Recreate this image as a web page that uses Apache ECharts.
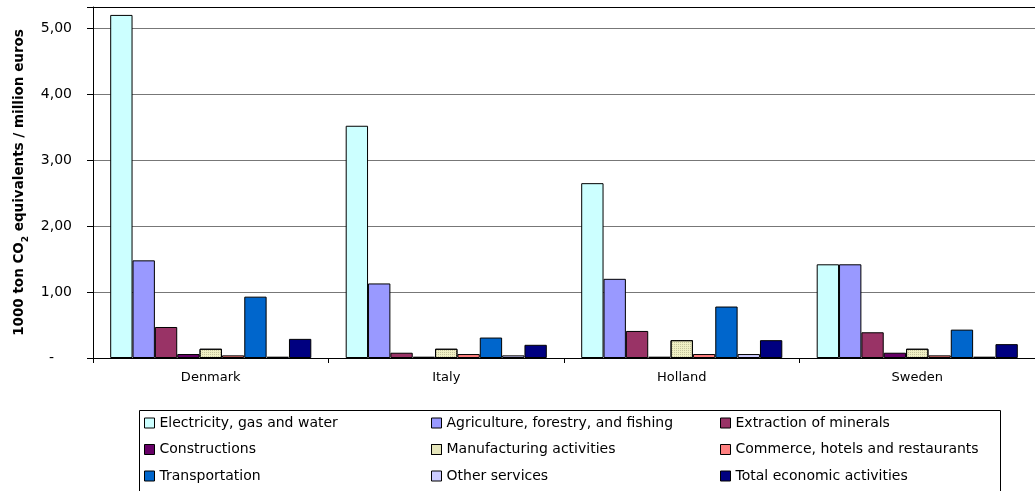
<!DOCTYPE html>
<html>
<head>
<meta charset="utf-8">
<script src="https://cdn.jsdelivr.net/npm/echarts@6/dist/echarts.min.js"></script>
<style>
html,body{margin:0;padding:0;background:#fff;}
#chart{width:1035px;height:491px;}
</style>
</head>
<body>
<div id="chart"></div>
<script>
const categories = ['Denmark', 'Italy', 'Holland', 'Sweden'];
const seriesNames = [
  'Electricity, gas and water',
  'Agriculture, forestry, and fishing',
  'Extraction of minerals',
  'Constructions',
  'Manufacturing activities',
  'Commerce, hotels and restaurants',
  'Transportation',
  'Other services',
  'Total economic activities'
];
const electricity   = [5.20, 3.52, 2.65, 1.42];
const agriculture   = [1.48, 1.13, 1.20, 1.42];
const extraction    = [0.47, 0.08, 0.41, 0.39];
const constructions = [0.06, 0.02, 0.02, 0.08];
const manufacturing = [0.14, 0.14, 0.27, 0.14];
const commerce      = [0.04, 0.06, 0.06, 0.04];
const transport     = [0.93, 0.31, 0.78, 0.43];
const otherServices = [0.02, 0.04, 0.06, 0.02];
const totalEcon     = [0.29, 0.20, 0.27, 0.21];
const yTicks = [0, 1, 2, 3, 4, 5];

const values = [electricity, agriculture, extraction, constructions, manufacturing, commerce, transport, otherServices, totalEcon];
const colors = ['#CCFFFF', '#9999FF', '#993366', '#660066', '#F0F0C4', '#FF8080', '#0066CC', '#CCCCFF', '#000080'];

const FONT = 'DejaVu Sans';

const series = seriesNames.map((name, i) => {
  const s = {
    name: name,
    type: 'bar',
    data: values[i],
    barGap: '0%',
    barCategoryGap: '14.6%',
    itemStyle: { color: colors[i], borderColor: '#000', borderWidth: 1 },
    emphasis: { disabled: true },
    animation: false
  };
  if (i === 4) {
    s.itemStyle.decal = { symbol: 'rect', symbolSize: 1, dashArrayX: [1, 1], dashArrayY: [1, 1], color: '#C4C49C' };
  }
  return s;
});

function legendCol(names, left) {
  return {
    orient: 'vertical',
    left: left,
    top: 416,
    data: names,
    icon: 'rect',
    itemWidth: 10,
    itemHeight: 10,
    itemGap: 12.5,
    padding: 0,
    selectedMode: false,
    itemStyle: { borderColor: '#000', borderWidth: 1 },
    textStyle: { fontFamily: FONT, fontSize: 14, color: '#000', lineHeight: 14 }
  };
}

const option = {
  animation: false,
  backgroundColor: '#fff',
  textStyle: { fontFamily: FONT },
  grid: { left: 93, right: -6, top: 7, bottom: 133, containLabel: false },
  xAxis: [{
    type: 'category',
    data: categories,
    axisLine: { lineStyle: { color: '#000', width: 1 } },
    axisTick: { show: true, interval: 0, length: 5, lineStyle: { color: '#000' } },
    axisLabel: { fontFamily: FONT, fontSize: 13, color: '#000', margin: 13 }
  }, {
    type: 'category',
    data: categories,
    position: 'top',
    axisLine: { show: true, lineStyle: { color: '#000', width: 1 } },
    axisTick: { show: false },
    axisLabel: { show: false }
  }],
  yAxis: {
    type: 'value',
    min: yTicks[0],
    max: 5.32,
    interval: 1,
    name: '1000 ton CO{sub|2} equivalents / million euros',
    nameLocation: 'middle',
    nameGap: 66,
    nameTextStyle: {
      fontFamily: FONT, fontSize: 13.5, fontWeight: 'bold', color: '#000', lineHeight: 14,
      rich: { sub: { fontFamily: FONT, fontSize: 9, fontWeight: 'bold', verticalAlign: 'bottom', lineHeight: 9, padding: [0, 0, -3, 0] } }
    },
    axisLine: { show: true, lineStyle: { color: '#000', width: 1 } },
    axisTick: { show: true, length: 6, lineStyle: { color: '#000' } },
    splitLine: { show: true, lineStyle: { color: '#777', width: 1 } },
    axisLabel: {
      fontFamily: FONT, fontSize: 14, color: '#000', margin: 21,
      formatter: function (v) {
        if (yTicks.indexOf(v) < 0) return '';
        if (v === 0) return '{d|-}';
        return v.toFixed(2).replace('.', ',');
      },
      rich: { d: { fontFamily: FONT, fontSize: 14, color: '#000', padding: [0, 18, 0, 0] } }
    }
  },
  legend: [
    legendCol([seriesNames[0], seriesNames[3], seriesNames[6]], 144),
    legendCol([seriesNames[1], seriesNames[4], seriesNames[7]], 431),
    legendCol([seriesNames[2], seriesNames[5], seriesNames[8]], 720)
  ],
  graphic: [{
    type: 'rect',
    left: 137, top: 408,
    shape: { width: 861, height: 81 },
    style: { fill: 'none', stroke: '#000', lineWidth: 1 },
    silent: true
  }],
  series: series
};

const chart = echarts.init(document.getElementById('chart'), null, { renderer: 'canvas' });
chart.setOption(option);
</script>
</body>
</html>
